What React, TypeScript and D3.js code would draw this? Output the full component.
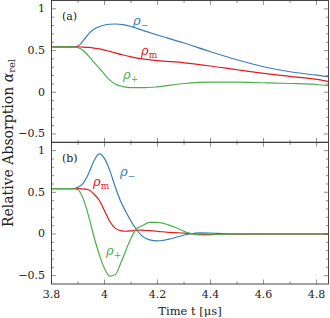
import React from 'react';
import * as d3 from 'd3';

// panel (a)
const timeA = [3.8, 3.88, 3.9, 3.92, 3.94, 3.96, 3.98, 4.0, 4.02, 4.04, 4.07, 4.1, 4.15, 4.2, 4.3, 4.4, 4.5, 4.6, 4.7, 4.8, 4.845];
const minusA = [0.545, 0.545, 0.555, 0.62, 0.7, 0.755, 0.786, 0.806, 0.815, 0.818, 0.81, 0.788, 0.735, 0.686, 0.59, 0.486, 0.39, 0.306, 0.246, 0.205, 0.186];
const midA = [0.545, 0.545, 0.543, 0.541, 0.537, 0.53, 0.52, 0.505, 0.49, 0.472, 0.447, 0.425, 0.398, 0.38, 0.353, 0.315, 0.27, 0.227, 0.19, 0.155, 0.13];
const plusA = [0.545, 0.545, 0.535, 0.5, 0.435, 0.36, 0.29, 0.215, 0.145, 0.1, 0.068, 0.056, 0.055, 0.065, 0.105, 0.122, 0.122, 0.114, 0.105, 0.093, 0.08];

// panel (b)
const timeB = [3.8, 3.88, 3.9, 3.92, 3.94, 3.96, 3.98, 4.0, 4.02, 4.04, 4.06, 4.08, 4.1, 4.12, 4.14, 4.17, 4.2, 4.24, 4.28, 4.32, 4.36, 4.4, 4.45, 4.5, 4.6, 4.845];
const minusB = [0.545, 0.545, 0.56, 0.61, 0.725, 0.875, 0.96, 0.904, 0.76, 0.57, 0.4, 0.27, 0.155, 0.057, -0.02, -0.07, -0.083, -0.065, -0.03, 0.0, 0.014, 0.012, 0.003, -0.002, 0, 0];
const midB = [0.545, 0.545, 0.545, 0.542, 0.53, 0.48, 0.405, 0.28, 0.15, 0.07, 0.04, 0.033, 0.038, 0.045, 0.046, 0.04, 0.032, 0.02, 0.015, 0.005, -0.002, -0.004, 0, 0, 0, 0];
const plusB = [0.545, 0.545, 0.53, 0.42, 0.215, -0.03, -0.245, -0.415, -0.505, -0.49, -0.36, -0.2, -0.05, 0.06, 0.095, 0.14, 0.14, 0.11, 0.06, 0.01, -0.012, -0.01, -0.003, 0, 0, 0];

const xTickLabels = [3.8, 4, 4.2, 4.4, 4.6, 4.8];
const yTickLabels = [-0.5, 0, 0.5, 1];

const BLUE = '#377eb8';
const RED = '#e41a1c';
const GREEN = '#4daf4a';
const FONT = 'DejaVu Serif';

const W = 330;
const H = 318;
const left = 51.5;
const right = 328.5;

const x = d3.scaleLinear().domain([3.8, 4.845]).range([left, right]);

const panels = [
  { id: 'a', top: 0.5, bottom: 142.3, t: timeA, series: [minusA, midA, plusA] },
  { id: 'b', top: 142.3, bottom: 284, t: timeB, series: [minusB, midB, plusB] },
];
const colors = [BLUE, RED, GREEN];

const fmt = (v: number) => (v < 0 ? '\u2212' + String(-v) : String(v));

const xMinor = d3.range(38, 49).map(i => i / 10);
const yMinor = d3.range(-5, 11).map(i => i / 10);

const labelsA = [
  { x: 133, y: 25, sub: '\u2212', c: BLUE },
  { x: 141, y: 55, sub: 'm', c: RED },
  { x: 123, y: 79, sub: '+', c: GREEN },
];
const labelsB = [
  { x: 120, y: 176, sub: '\u2212', c: BLUE },
  { x: 93, y: 186, sub: 'm', c: RED },
  { x: 106, y: 255, sub: '+', c: GREEN },
];

const Panel = ({ p, last }: { p: any; last: boolean }) => {
  const y = d3.scaleLinear().domain([-0.6, 1.1]).range([p.bottom, p.top]);
  const line = d3
    .line<number>()
    .x((_, i) => x(p.t[i]))
    .y(d => y(d))
    .curve(d3.curveMonotoneX);
  const major = (v: number) => Math.abs(Math.round(v * 10) % 2) === 0;
  const ymaj = (v: number) => Math.abs(Math.round(v * 10) % 5) === 0;
  const tick = '#444';
  return (
    <g>
      <clipPath id={'clip' + p.id}>
        <rect x={left} y={p.top} width={right - left} height={p.bottom - p.top} />
      </clipPath>
      <g clipPath={`url(#clip${p.id})`}>
        {p.series.map((s: number[], i: number) => (
          <path key={i} d={line(s) || ''} fill="none" stroke={colors[i]} strokeWidth={1.2} />
        ))}
      </g>
      {xMinor.map(v => {
        const len = major(v) ? 4.5 : 2.5;
        return (
          <g key={'x' + v} stroke={tick} strokeWidth={0.6}>
            <line x1={x(v)} x2={x(v)} y1={p.bottom} y2={p.bottom - len} />
            <line x1={x(v)} x2={x(v)} y1={p.top} y2={p.top + len} />
          </g>
        );
      })}
      {yMinor.map(v => {
        const len = ymaj(v) ? 4.5 : 2.5;
        return (
          <g key={'y' + v} stroke={tick} strokeWidth={0.6}>
            <line x1={left} x2={left + len} y1={y(v)} y2={y(v)} />
            <line x1={right} x2={right - len} y1={y(v)} y2={y(v)} />
          </g>
        );
      })}
      <rect x={left} y={p.top} width={right - left} height={p.bottom - p.top} fill="none" stroke="#333" strokeWidth={0.9} />
      {yTickLabels.map(v => (
        <text key={'yl' + v} x={left - 6.5} y={y(v)} textAnchor="end" dominantBaseline="central" fontSize={11}>
          {fmt(v)}
        </text>
      ))}
      {last &&
        xTickLabels.map(v => (
          <text key={'xl' + v} x={x(v)} y={p.bottom + 10} textAnchor="middle" dominantBaseline="central" fontSize={11}>
            {fmt(v)}
          </text>
        ))}
      <text x={62} y={p.top + 16} dominantBaseline="central" fontSize={11}>
        ({p.id})
      </text>
      {(p.id === 'a' ? labelsA : labelsB).map((l, i) => (
        <text key={'c' + i} x={l.x} y={l.y} fill={l.c} fontSize={13}>
          <tspan fontStyle="italic">ρ</tspan>
          <tspan fontSize={9} dy={2.5}>{l.sub}</tspan>
        </text>
      ))}
    </g>
  );
};

export default function App() {
  return (
    <svg
      width={W}
      height={H}
      style={{ position: 'absolute', left: 0, top: 0, background: '#fff', fontFamily: FONT }}
      fill="#222"
    >
      {panels.map((p, i) => (
        <Panel key={p.id} p={p} last={i === panels.length - 1} />
      ))}
      <text
        transform={`translate(8,143) rotate(-90)`}
        textAnchor="middle"
        dominantBaseline="central"
        fontSize={14}
      >
        Relative Absorption <tspan fontStyle="italic">α</tspan>
        <tspan fontSize={10} dy={3}>rel</tspan>
      </text>
      <text x={190} y={311} textAnchor="middle" dominantBaseline="central" fontSize={11.5}>
        Time t [μs]
      </text>
    </svg>
  );
}
